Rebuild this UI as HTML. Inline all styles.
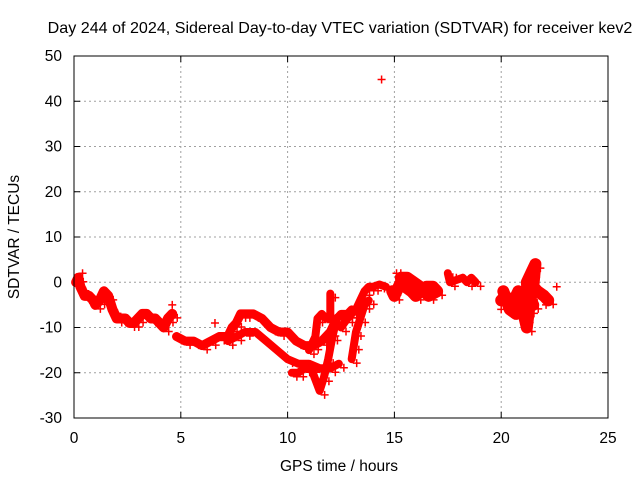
<!DOCTYPE html>
<html><head><meta charset="utf-8"><style>
body{margin:0;background:#fff}
svg{display:block;font-family:"Liberation Sans",sans-serif;font-size:15.5px}
</style></head><body>
<svg id="c" width="640" height="480">
<text x="340" y="33" text-anchor="middle" style="font-size:16.1px">Day 244 of 2024, Sidereal Day-to-day VTEC variation (SDTVAR) for receiver kev2</text>
<text x="339" y="471" text-anchor="middle">GPS time / hours</text>
<text transform="translate(19,237) rotate(-90)" text-anchor="middle">SDTVAR / TECUs</text>
<g id="grid"></g><g id="ticks"></g><g id="marks"></g>
<rect x="74" y="56" width="534" height="362" fill="none" stroke="#000"/>
</svg>
<script>
const xTicks=[0,5,10,15,20,25];
const yTicks=[-30,-20,-10,0,10,20,30,40,50];
const traceA_x=[0.1,0.2,0.3,0.4,0.5,0.7,0.9,1.0,1.2,1.4,1.6,1.8,2.0,2.2,2.4,2.6,2.8,3.0,3.2,3.4,3.6,3.8,4.0,4.2,4.4,4.6];
const traceA_y=[0,1,-1,-2,-3,-3,-4,-5,-4,-2,-3,-6,-8,-8,-8,-9,-9,-8,-7,-7,-8,-8,-9,-10,-8,-7];
const traceB_x=[4.8,5.2,5.6,6.0,6.4,6.8,7.2,7.4,7.6,7.8,8.0,8.4,8.8,9.2,9.6,10.0,10.4,10.8,11.2,11.6,12.0,12.3];
const traceB_y=[-12,-13,-13,-14,-13,-12,-12,-10,-9,-7,-7,-7,-8,-10,-11,-11,-13,-14,-14,-13,-11,-8];
const traceC_x=[7.2,7.6,8.0,8.5,9.0,9.5,10.0,10.5,11.0,11.5,12.0,12.4];
const traceC_y=[-13,-12,-11,-11,-13,-15,-17,-18,-18,-19,-19,-18];
const traceD_x=[10.2,10.5,10.8,11.1,11.5,11.7,11.9,12.1,12.3,12.5,12.8,13.0];
const traceD_y=[-20,-20,-19,-19,-24,-21,-17,-12,-8,-7,-7,-6];
const traceE_x=[11.0,11.3,11.4,11.6,11.8,12.0,12.0];
const traceE_y=[-15,-12,-8,-7,-8,-8,-2.5];
const traceF_x=[12.5,12.8,13.0,13.2,13.4,13.6,13.8,14.0,14.3,14.6];
const traceF_y=[-10,-8,-7,-6,-4,-2,-1,-1,-0.5,-1];
const traceG_x=[13.0,13.1,13.2,13.4,13.6,13.8];
const traceG_y=[-17,-14,-11,-8,-5,-4];
const traceH_x=[14.9,15.0,15.3,15.5,15.8,16.0,16.2,16.5,16.8,17.0,16.6,16.2,15.6,15.3];
const traceH_y=[-2,-3,0,-1,-2,-3,-2,-1,-1,-2,-3,-1,1,1];
const traceI_x=[17.5,17.6,18.2,18.4,18.6,18.8];
const traceI_y=[2,0,1,0,1,0];
const traceJ_x=[20.0,20.2,20.4,20.6,20.8,21.0,21.1,21.2,21.3,21.2,21.4,21.6,21.5,21.7,22.0,22.2];
const traceJ_y=[-4,-3,-5,-4,-2,-3,-8,-10,-6,0,2,4,-1,-2,-3,-4];
const traceK_x=[20.1,20.4,20.7,21.0,21.3,21.5];
const traceK_y=[-2,-6,-7,-5,-3,-5];
const scatter_x=[14.4,15.1,15.3,20.0,20.5,21.0,22.1,22.6,0.4,4.6,6.6,17.9];
const scatter_y=[44.8,2,2,-6,-7,-1,-5,-1,2,-5,-9,1];
const traces=[[traceA_x,traceA_y],[traceB_x,traceB_y],[traceC_x,traceC_y],[traceD_x,traceD_y],[traceE_x,traceE_y],[traceF_x,traceF_y],[traceG_x,traceG_y],[traceH_x,traceH_y],[traceI_x,traceI_y],[traceJ_x,traceJ_y],[traceK_x,traceK_y]];
const widths=[10,9,8,8,8,8,8,12,8,12,12];
const X0=74,X1=608,Y0=418,Y1=56;
const sx=v=>X0+(v-0)/25*(X1-X0);
const sy=v=>Y0-(v+30)/80*(Y0-Y1);
const NS='http://www.w3.org/2000/svg';
function mk(tag,attrs,parent){const e=document.createElementNS(NS,tag);for(const k in attrs)e.setAttribute(k,attrs[k]);parent.appendChild(e);return e;}
const grid=document.getElementById('grid'),ticks=document.getElementById('ticks'),marks=document.getElementById('marks');
xTicks.forEach(t=>{
 const x=sx(t);
 if(t>0&&t<25){const g=mk('line',{x1:x,x2:x,y1:Y1,y2:Y0,stroke:'#a0a0a0','stroke-dasharray':'2,3'},grid);
 
 }
 mk('line',{x1:x,x2:x,y1:Y0,y2:Y0-6,stroke:'#000'},ticks);
 mk('line',{x1:x,x2:x,y1:Y1,y2:Y1+6,stroke:'#000'},ticks);
 const tx=mk('text',{x:x,y:443,'text-anchor':'middle'},ticks);tx.textContent=t;
 
 
});
yTicks.forEach(t=>{
 const y=sy(t);
 if(t>-30&&t<50){const g=mk('line',{x1:X0,x2:X1,y1:y,y2:y,stroke:'#a0a0a0','stroke-dasharray':'2,3'},grid);
 
 }
 mk('line',{x1:X0,x2:X0+6,y1:y,y2:y,stroke:'#000'},ticks);
 mk('line',{x1:X1,x2:X1-6,y1:y,y2:y,stroke:'#000'},ticks);
 const tx=mk('text',{x:62,y:y+5,'text-anchor':'end'},ticks);tx.textContent=t;
 
 
});
function plus(x,y){
 const p=mk('path',{d:`M${x-4},${y}h8M${x},${y-4}v8`,stroke:'#f00','stroke-width':1.5,fill:'none'},marks);
 
 
}
traces.forEach(([xs,ys],k)=>{
 const pts=xs.map((v,i)=>sx(v)+','+sy(ys[i])).join(' ');
 const pl=mk('polyline',{points:pts,fill:'none',stroke:'#f00','stroke-width':widths[k],'stroke-linejoin':'round','stroke-linecap':'round'},marks);
 
 
 xs.forEach((v,i)=>plus(sx(v)+5,sy(ys[i])+4));
});
scatter_x.forEach((v,i)=>plus(sx(v),sy(scatter_y[i])));
</script>
</body></html>
